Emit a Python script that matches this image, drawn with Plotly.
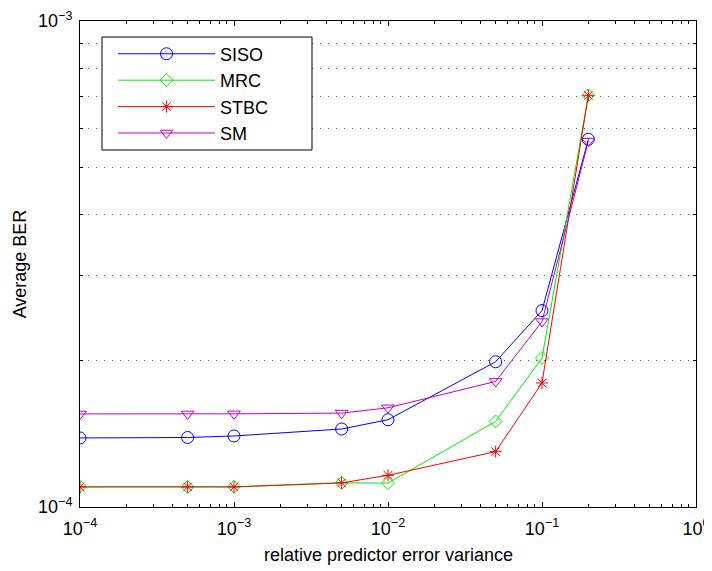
import plotly.graph_objects as go

x_vals = [1e-4, 5e-4, 1e-3, 5e-3, 1e-2, 5e-2, 1e-1, 2e-1]
siso = [1.387e-4, 1.39e-4, 1.40e-4, 1.447e-4, 1.512e-4, 1.99e-4, 2.536e-4, 5.71e-4]
mrc = [1.10e-4, 1.10e-4, 1.10e-4, 1.121e-4, 1.12e-4, 1.50e-4, 2.025e-4, 7.03e-4]
stbc = [1.10e-4, 1.10e-4, 1.10e-4, 1.121e-4, 1.162e-4, 1.30e-4, 1.80e-4, 7.03e-4]
sm = [1.554e-4, 1.554e-4, 1.555e-4, 1.56e-4, 1.60e-4, 1.813e-4, 2.407e-4, 5.66e-4]

x_ticks = [1e-4, 1e-3, 1e-2, 1e-1, 1]
x_ticktext = ["10<sup>\u22124</sup>", "10<sup>\u22123</sup>", "10<sup>\u22122</sup>",
              "10<sup>\u22121</sup>", "10<sup>0</sup>"]
y_ticks = [1e-4, 1e-3]
y_ticktext = ["10<sup>\u22124</sup>", "10<sup>\u22123</sup>"]

x_minor = [m * 10 ** e for e in (-4, -3, -2, -1) for m in range(2, 10)]
y_minor = [m * 1e-4 for m in range(2, 10)]

series = [
    ("SISO", siso, "#0000ff", "circle-open", 12),
    ("MRC", mrc, "#00ee00", "diamond-open", 10),
    ("STBC", stbc, "#ff0000", "asterisk-open", 10),
    ("SM", sm, "#c000c0", "triangle-down-open", 11),
]

fig = go.Figure()
for name, vals, color, sym, size in series:
    fig.add_trace(go.Scatter(
        x=x_vals, y=vals, name=name, mode="lines+markers",
        line=dict(color=color, width=1),
        marker=dict(symbol=sym, size=size, color=color, line=dict(color=color, width=1)),
        legendgroup=name,
    ))

# legend frame (page body adds an 8px offset, figure sized to compensate)
fig.add_shape(type="rect", xref="paper", yref="paper",
              x0=0.0357, x1=0.3766, y0=0.7346, y1=0.967,
              line=dict(color="black", width=1), fillcolor="white", layer="above")

font = "Liberation Sans, Arial, Helvetica, sans-serif"
fig.add_annotation(text="relative predictor error variance", xref="paper", yref="paper",
                   x=0.5, y=0, xanchor="center", yanchor="middle", yshift=-48,
                   showarrow=False, font=dict(size=18, family=font, color="black"))

fig.update_layout(
    width=704, height=563,
    margin=dict(l=72, r=16, t=13, b=64),
    paper_bgcolor="white", plot_bgcolor="white",
    font=dict(family=font, size=18, color="black"),
    showlegend=True,
    legend=dict(
        x=0.0536, y=0.970, xanchor="left", yanchor="top",
        bgcolor="rgba(0,0,0,0)", borderwidth=0,
        font=dict(size=18), tracegroupgap=0, itemwidth=97,
    ),
    xaxis=dict(
        type="log", range=[-4, 0], automargin=False,
        tickvals=x_ticks, ticktext=x_ticktext,
        ticks="inside", ticklen=5, tickcolor="black",
        showline=True, linecolor="black", linewidth=1, mirror="ticks",
        showgrid=False, zeroline=False,
        tickfont=dict(size=18), ticklabelstandoff=5, ticklabeloverflow="allow",
        minor=dict(tickvals=x_minor, ticks="inside", ticklen=3, tickcolor="black", showgrid=False),
    ),
    yaxis=dict(
        type="log", range=[-4, -3], automargin=False,
        tickvals=y_ticks, ticktext=y_ticktext,
        ticks="inside", ticklen=5, tickcolor="black",
        showline=True, linecolor="black", linewidth=1, mirror="ticks",
        showgrid=False, zeroline=False,
        tickfont=dict(size=18), ticklabelstandoff=3, ticklabeloverflow="allow",
        title=dict(text="Average BER", font=dict(size=18), standoff=6),
        minor=dict(tickvals=y_minor, ticks="inside", ticklen=3, tickcolor="black",
                   showgrid=True, gridcolor="#555555", griddash="1px,7px", gridwidth=1),
    ),
)

fig.write_html("out.html")
